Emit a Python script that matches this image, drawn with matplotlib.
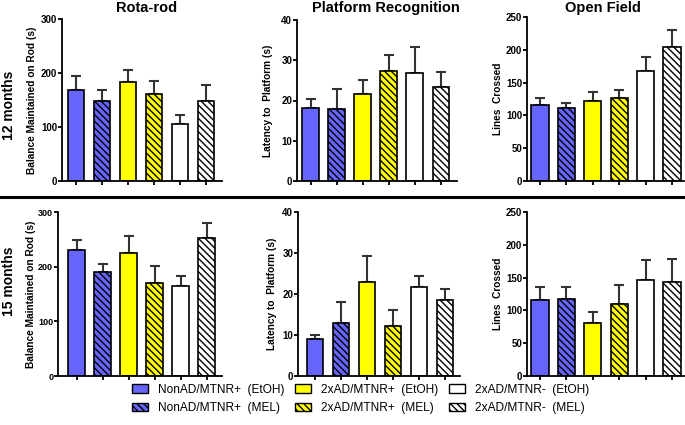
import numpy as np
import matplotlib
matplotlib.use('Agg')
import matplotlib.pyplot as plt
from matplotlib.patches import Patch
from matplotlib.lines import Line2D

plt.rcParams['font.family'] = ['Liberation Sans', 'DejaVu Sans']
plt.rcParams['hatch.linewidth'] = 1.0

groepen = ['NonAD/MTNR+  (EtOH)', 'NonAD/MTNR+  (MEL)',
           '2xAD/MTNR+  (EtOH)', '2xAD/MTNR+  (MEL)',
           '2xAD/MTNR-  (EtOH)', '2xAD/MTNR-  (MEL)']
kleuren = ['#6666ff', '#6666ff', '#ffff00', '#ffff00', '#ffffff', '#ffffff']
arcering = ['', '\\\\\\\\\\', '', '\\\\\\\\\\', '', '\\\\\\\\\\']

rota_12 = [169, 149, 183, 162, 105, 149]
rota_12_err = [25, 19, 22, 23, 18, 29]
platform_12 = [18.1, 18.0, 21.6, 27.4, 26.9, 23.3]
platform_12_err = [2.3, 4.8, 3.6, 3.9, 6.3, 3.9]
open_12 = [116, 111, 122, 127, 168, 204]
open_12_err = [10, 8, 14, 11, 21, 26]

rota_15 = [230, 190, 225, 170, 164, 252]
rota_15_err = [18, 15, 32, 32, 19, 27]
platform_15 = [9.1, 12.9, 23.0, 12.2, 21.7, 18.6]
platform_15_err = [1.0, 5.2, 6.2, 3.8, 2.8, 2.7]
open_15 = [116, 117, 81, 109, 147, 143]
open_15_err = [19, 19, 16, 29, 30, 36]

W, H = 685, 425
fig = plt.figure(figsize=(W / 100, H / 100), dpi=100)


def maak_as(links, rechts, boven, onder, eerste, laatste):
    ax = fig.add_axes([links / W, 1 - onder / H, (rechts - links) / W, (onder - boven) / H])
    stap = (laatste - eerste) / 5
    ax.set_xlim(-(eerste - links) / stap, 5 + (rechts - laatste) / stap)
    return ax


def teken(ax, waarden, fouten, ymax, ystap, ylabel, label_afstand, tick_grootte=7):
    x = np.arange(len(waarden))
    ax.errorbar(x, waarden, yerr=[np.zeros(len(fouten)), fouten], fmt='none',
                ecolor='#333333', elinewidth=1.5, capsize=3.3, capthick=1.5, zorder=1)
    ax.bar(x, waarden, width=0.65, color=kleuren, hatch=arcering,
           edgecolor='black', linewidth=1.2, zorder=2)
    ax.set_ylim(0, ymax)
    ax.set_yticks(np.arange(0, ymax + 1, ystap))
    ax.set_xticks(x)
    ax.set_xticklabels([])
    ax.spines['top'].set_visible(False)
    ax.spines['right'].set_visible(False)
    ax.spines['left'].set_linewidth(1.3)
    ax.spines['bottom'].set_linewidth(1.3)
    ax.tick_params(axis='both', direction='out', width=1.3, length=3, pad=0.5)
    for lab in ax.get_yticklabels():
        lab.set_fontsize(tick_grootte)
        lab.set_fontweight('bold')
    ax.set_ylabel(ylabel, fontsize=7.3, fontweight='bold')
    breedte = ax.get_position().width * W
    ax.yaxis.set_label_coords(-label_afstand / breedte, 0.5)
    ax.yaxis.label.set_verticalalignment('center')


ax1 = maak_as(62, 222, 19, 181, 76, 206)
teken(ax1, rota_12, rota_12_err, 300, 100, 'Balance Maintained on Rod (s)', 30)
ax2 = maak_as(297, 457, 20, 181, 310.7, 441)
teken(ax2, platform_12, platform_12_err, 40, 10, 'Latency to  Platform (s)', 29)
ax3 = maak_as(527, 684, 17, 181, 540, 672)
teken(ax3, open_12, open_12_err, 250, 50, 'Lines  Crossed', 29)

ax4 = maak_as(58, 222, 212, 376, 76.7, 206.7)
teken(ax4, rota_15, rota_15_err, 300, 100, 'Balance Maintained on Rod (s)', 27, 6.5)
ax5 = maak_as(298, 460, 212, 376, 315, 445)
teken(ax5, platform_15, platform_15_err, 40, 10, 'Latency to  Platform (s)', 26)
ax6 = maak_as(527, 684, 212, 376, 540, 672)
teken(ax6, open_15, open_15_err, 250, 50, 'Lines  Crossed', 29)

# titels
fig.text(147 / W, 1 - 8 / H, 'Rota-rod', ha='center', va='center', fontsize=10.5, fontweight='bold')
fig.text(386 / W, 1 - 8 / H, 'Platform Recognition', ha='center', va='center', fontsize=10.5, fontweight='bold')
fig.text(603 / W, 1 - 8 / H, 'Open Field', ha='center', va='center', fontsize=10.5, fontweight='bold')
fig.text(9 / W, 1 - 105 / H, '12 months', rotation=90, ha='center', va='center', fontsize=10, fontweight='bold')
fig.text(9 / W, 1 - 281 / H, '15 months', rotation=90, ha='center', va='center', fontsize=10, fontweight='bold')

# scheidingslijn
fig.add_artist(Line2D([0, 1], [1 - 197 / H, 1 - 197 / H], color='black', linewidth=2.2,
                      transform=fig.transFigure))

# legenda: drie kolommen, elk apart geplaatst
handles = [Patch(facecolor=kleuren[i], edgecolor='black', hatch=arcering[i], linewidth=1.0, label=groepen[i])
           for i in range(6)]
for k, xpos in enumerate([132, 295, 449]):
    fig.legend(handles=handles[2 * k:2 * k + 2], loc='center left',
               bbox_to_anchor=(xpos / W, 1 - 399 / H), borderaxespad=0,
               frameon=False, fontsize=8.6, handlelength=1.35, handleheight=0.72,
               labelspacing=0.55, handletextpad=0.8, borderpad=0)

fig.savefig('out.png', dpi=100)
